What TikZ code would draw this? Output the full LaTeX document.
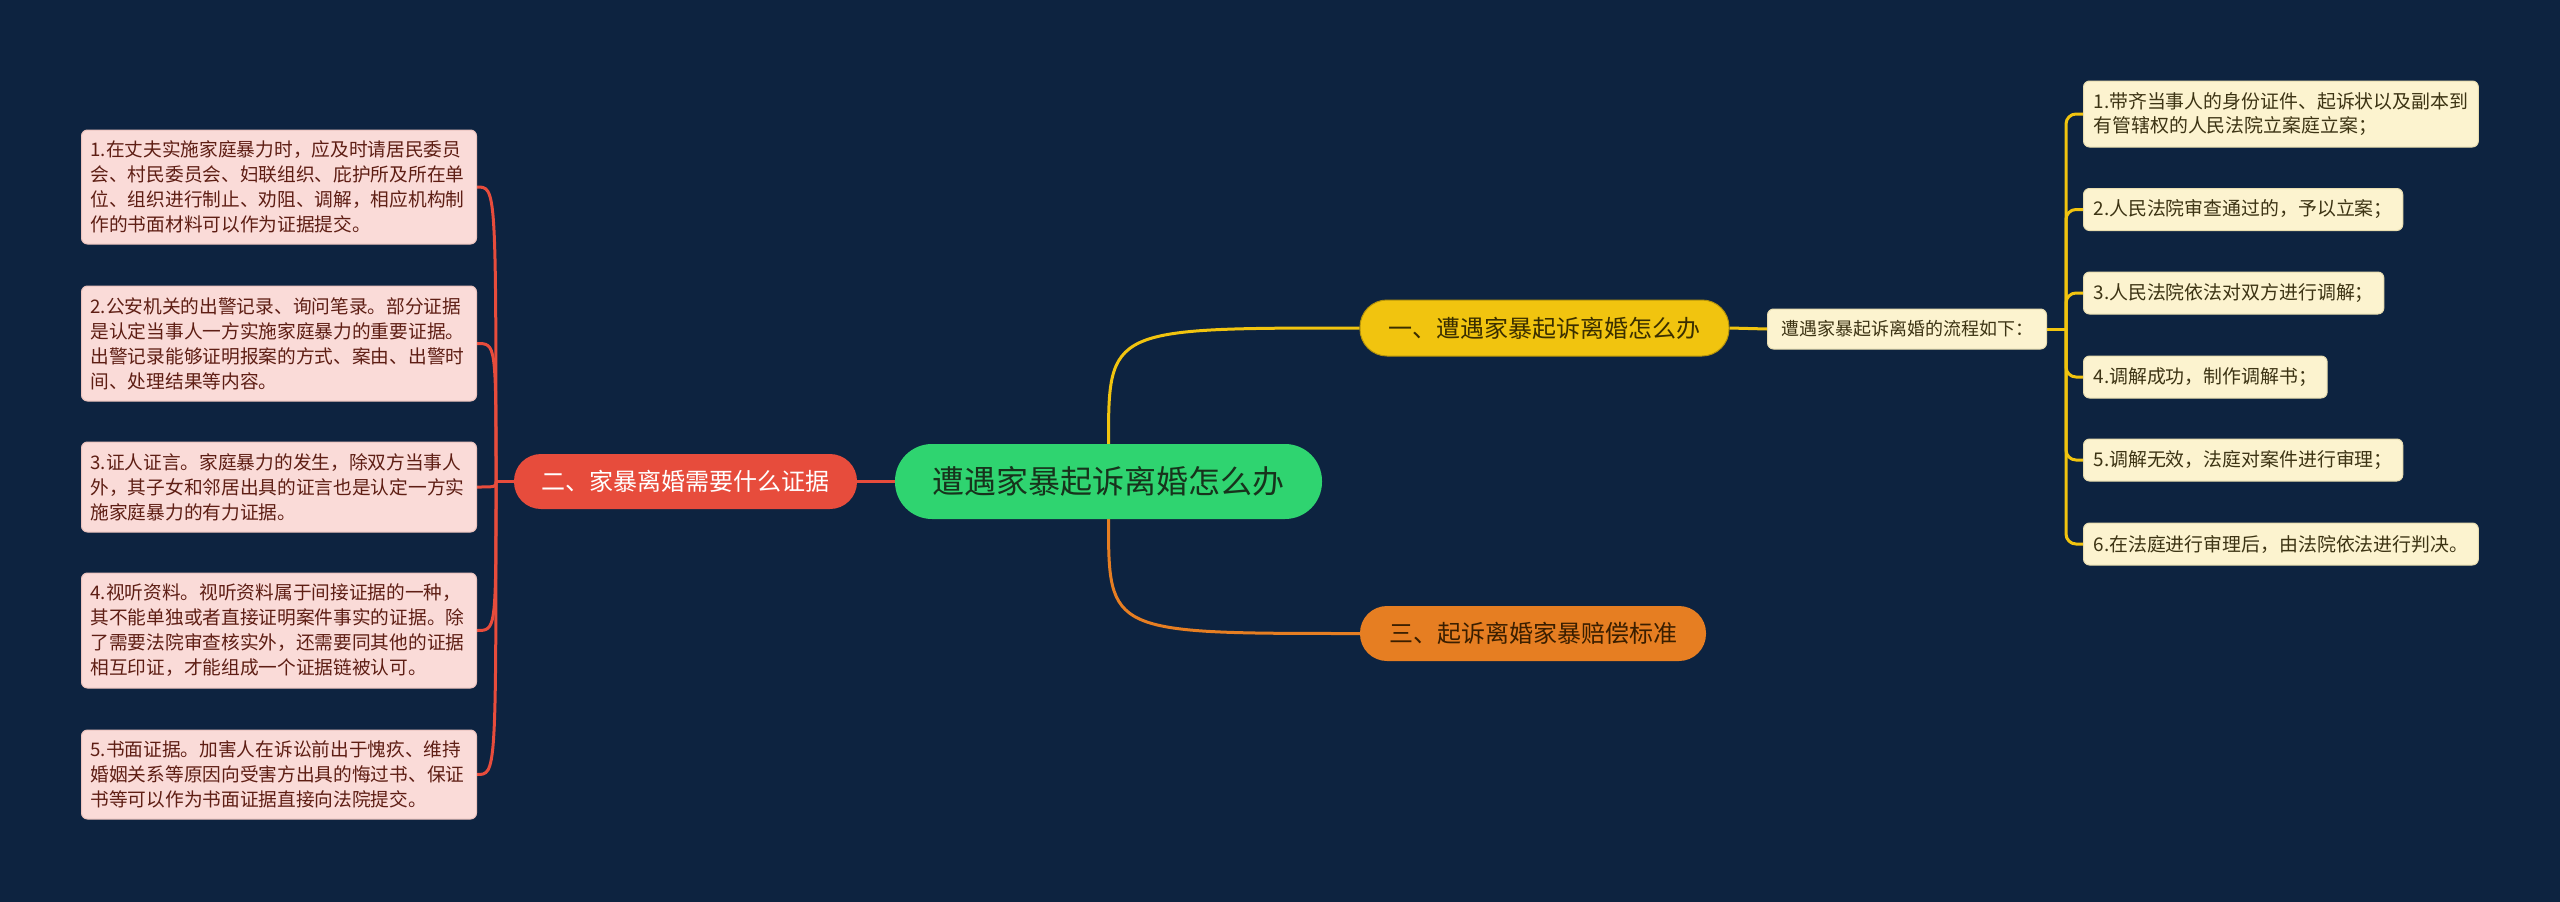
\documentclass[tikz,border=0pt]{standalone}
\usepackage{fontspec}
\newfontfamily\cjk{Noto Sans CJK SC}
\usetikzlibrary{backgrounds}
\definecolor{bg}{HTML}{0D2340}
\definecolor{rootgreen}{HTML}{2FD470}
\definecolor{roottext}{HTML}{17331C}
\definecolor{redc}{HTML}{E74C3C}
\definecolor{yellowc}{HTML}{F1C40F}
\definecolor{yellowtext}{HTML}{3A2E00}
\definecolor{orangec}{HTML}{E67E22}
\definecolor{orangetext}{HTML}{3A1E00}
\definecolor{pinkfill}{HTML}{FADBD8}
\definecolor{pinkline}{HTML}{EBC3BE}
\definecolor{pinktext}{HTML}{5E1E14}
\definecolor{creamfill}{HTML}{FCF3CF}
\definecolor{creamline}{HTML}{E8DDB0}
\definecolor{creamtext}{HTML}{3D3414}
\begin{document}
\begin{tikzpicture}[x=1pt,y=-1pt,
  rootnode/.style={fill=rootgreen, rounded corners=37pt, minimum width=427pt, minimum height=75pt, inner sep=0pt, text=roottext, font=\cjk\fontsize{32}{38}\selectfont},
  topic/.style={rounded corners=27pt, minimum height=55pt, inner sep=0pt, font=\cjk\fontsize{24}{28}\selectfont},
  leftbox/.style={fill=pinkfill, draw=pinkline, line width=1pt, rounded corners=6pt, anchor=west, text width=377pt, inner xsep=9pt, inner ysep=0pt, align=left, text=pinktext, font=\cjk\fontsize{18.7}{25}\selectfont},
  rightbox/.style={fill=creamfill, draw=creamline, line width=1pt, rounded corners=6pt, anchor=west, inner xsep=10pt, inner ysep=0pt, align=left, text=creamtext, minimum height=42pt, font=\cjk\fontsize{18.9}{24}\selectfont},
  redline/.style={draw=redc, line width=3pt},
  yellowline/.style={draw=yellowc, line width=3pt},
  orangeline/.style={draw=orangec, line width=3pt}]
\useasboundingbox (0,0) rectangle (2560,902);

\node[rootnode] (root) at (1108.5,481.5) {遭遇家暴起诉离婚怎么办};
\node[topic, fill=redc, text=white, minimum width=343pt] (t2) at (685.5,481.5) {二、家暴离婚需要什么证据};
\node[topic, fill=yellowc, draw=yellowc!75!black, line width=1pt, text=yellowtext, minimum width=369pt, minimum height=56pt] (t1) at (1544.5,328) {一、遭遇家暴起诉离婚怎么办};
\node[topic, fill=orangec, text=orangetext, minimum width=346pt] (t3) at (1533,633.5) {三、起诉离婚家暴赔偿标准};

\node[rightbox, minimum height=40pt, minimum width=279pt, inner xsep=0pt, align=center, font=\cjk\fontsize{18}{22}\selectfont] (c) at (1767,329) {遭遇家暴起诉离婚的流程如下：};

\node[rightbox, minimum height=66pt] (r1) at (2083,114) {1.带齐当事人的身份证件、起诉状以及副本到\\有管辖权的人民法院立案庭立案；};
\node[rightbox] (r2) at (2083,209.5) {2.人民法院审查通过的，予以立案；};
\node[rightbox] (r3) at (2083,293) {3.人民法院依法对双方进行调解；};
\node[rightbox] (r4) at (2083,377) {4.调解成功，制作调解书；};
\node[rightbox] (r5) at (2083,460) {5.调解无效，法庭对案件进行审理；};
\node[rightbox] (r6) at (2083,544) {6.在法庭进行审理后，由法院依法进行判决。};

\node[leftbox, minimum height=114pt] (l1) at (81,187) {1.在丈夫实施家庭暴力时，应及时请居民委员\\会、村民委员会、妇联组织、庇护所及所在单\\位、组织进行制止、劝阻、调解，相应机构制\\作的书面材料可以作为证据提交。};
\node[leftbox, minimum height=115pt] (l2) at (81,343.5) {2.公安机关的出警记录、询问笔录。部分证据\\是认定当事人一方实施家庭暴力的重要证据。\\出警记录能够证明报案的方式、案由、出警时\\间、处理结果等内容。};
\node[leftbox, minimum height=90pt] (l3) at (81,487) {3.证人证言。家庭暴力的发生，除双方当事人\\外，其子女和邻居出具的证言也是认定一方实\\施家庭暴力的有力证据。};
\node[leftbox, minimum height=115pt] (l4) at (81,630.5) {4.视听资料。视听资料属于间接证据的一种，\\其不能单独或者直接证明案件事实的证据。除\\了需要法院审查核实外，还需要同其他的证据\\相互印证，才能组成一个证据链被认可。};
\node[leftbox, minimum height=89pt] (l5) at (81,774.5) {5.书面证据。加害人在诉讼前出于愧疚、维持\\婚姻关系等原因向受害方出具的悔过书、保证\\书等可以作为书面证据直接向法院提交。};

\coordinate (jl) at (496,481.5);
\coordinate (jr) at (2066,329);

\begin{scope}[on background layer]
\fill[bg] (0,0) rectangle (2560,902);
\draw[redline] (root.west) -- (t2.east);
\draw[redline] (t2.west) -- (jl);
\foreach \n in {l1,l2,l3,l4,l5}
  \draw[redline] (jl) .. controls (jl |- \n.east) .. (\n.east);
\draw[yellowline] (root.north) .. controls (root.north |- t1.west) .. (t1.west);
\draw[orangeline] (root.south) .. controls (root.south |- t3.west) .. (t3.west);
\draw[yellowline] (t1.east) -- (c.west);
\draw[yellowline] (c.east) -- (jr);
\foreach \n in {r1,r2,r3,r4,r5,r6}
  \draw[yellowline, rounded corners=10pt] (jr) |- (\n.west);
\end{scope}
\end{tikzpicture}
\end{document}
